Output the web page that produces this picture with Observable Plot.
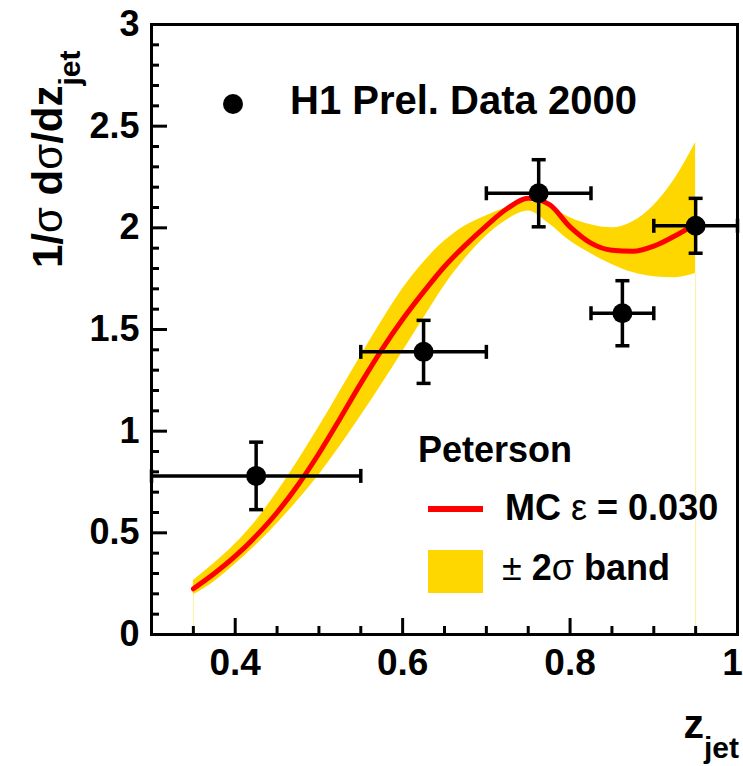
<!DOCTYPE html>
<html>
<head>
<meta charset="utf-8">
<script src="https://cdn.jsdelivr.net/npm/d3@7"></script>
<script src="https://cdn.jsdelivr.net/npm/@observablehq/plot@0.6"></script>
<style>
  html, body { margin: 0; padding: 0; background: #ffffff; }
  #chart svg { display: block; }
</style>
</head>
<body>
<div id="chart"></div>
<script>
// ---------- data ----------
// Monte Carlo (Peterson, eps = 0.030) curve and its +-2 sigma band
const zGrid     = [0.35, 0.375, 0.40, 0.425, 0.45, 0.475, 0.50, 0.525, 0.55, 0.575, 0.60, 0.625, 0.65, 0.675, 0.70, 0.725, 0.75, 0.775, 0.80, 0.825, 0.85, 0.875, 0.90, 0.925, 0.95];
const mcCentral = [0.225, 0.30, 0.385, 0.485, 0.60, 0.735, 0.89, 1.06, 1.235, 1.40, 1.55, 1.685, 1.81, 1.915, 2.01, 2.095, 2.145, 2.115, 2.005, 1.925, 1.89, 1.885, 1.91, 1.96, 2.02];
const bandLow   = [0.195, 0.26, 0.345, 0.44, 0.545, 0.66, 0.785, 0.925, 1.075, 1.23, 1.39, 1.555, 1.715, 1.85, 1.96, 2.04, 2.083, 2.02, 1.935, 1.872, 1.82, 1.78, 1.76, 1.755, 1.775];
const bandHigh  = [0.265, 0.35, 0.445, 0.56, 0.70, 0.855, 1.02, 1.195, 1.37, 1.54, 1.70, 1.83, 1.935, 2.01, 2.06, 2.10, 2.13, 2.105, 2.05, 2.015, 2.0, 2.03, 2.11, 2.24, 2.42];

// H1 preliminary data 2000
const dataZ    = [0.425, 0.625, 0.7625, 0.8625, 0.95];
const dataVal  = [0.78, 1.39, 2.17, 1.58, 2.01];
const binLow   = [0.30, 0.55, 0.70, 0.825, 0.90];
const binHigh  = [0.55, 0.70, 0.825, 0.90, 1.00];
const dataErr  = [0.166, 0.155, 0.165, 0.16, 0.135];

// axes
const xDomain = [0.3, 1.0];
const yDomain = [0, 3];
const xMajorTicks = [0.4, 0.6, 0.8, 1.0];
const xTickLabels = ["0.4", "0.6", "0.8", "1"];
const xMinorTicks = [0.35, 0.45, 0.5, 0.55, 0.65, 0.7, 0.75, 0.85, 0.9, 0.95];
const yMajorTicks = [0, 0.5, 1, 1.5, 2, 2.5, 3];
const yTickLabels = ["0", "0.5", "1", "1.5", "2", "2.5", "3"];
const yMinorTicks = [0.1, 0.2, 0.3, 0.4, 0.6, 0.7, 0.8, 0.9, 1.1, 1.2, 1.3, 1.4, 1.6, 1.7, 1.8, 1.9, 2.1, 2.2, 2.3, 2.4, 2.6, 2.7, 2.8, 2.9];

// ---------- tables ----------
const curveRows = zGrid.map((z, i) => ({z, mc: mcCentral[i], lo: bandLow[i], hi: bandHigh[i]}));
const pointRows = dataZ.map((z, i) => ({
  z, v: dataVal[i], zlo: binLow[i], zhi: binHigh[i],
  ylo: dataVal[i] - dataErr[i], yhi: dataVal[i] + dataErr[i]
}));
const bandEnds = [curveRows[0], curveRows[curveRows.length - 1]];
const xInnerTicks = xMajorTicks.slice(0, -1);
const xEdgeTick = xMajorTicks.slice(-1);

// ---------- style ----------
const FONT = '"Liberation Sans", Arial, Helvetica, sans-serif';
const YELLOW = "#FFD700";
const RED = "#FF0000";
const W = 743, H = 766;
const M = {top: 24, right: 6, bottom: 132, left: 151};

// tick lengths converted from pixels to data units along each scale
const xPerPx = (xDomain[1] - xDomain[0]) / (W - M.left - M.right);
const yPerPx = (yDomain[1] - yDomain[0]) / (H - M.top - M.bottom);
const MAJOR = 16, MINOR = 8;

const hBar = {draw(ctx, size) { const r = Math.sqrt(size / Math.PI); ctx.moveTo(-r, 0); ctx.lineTo(r, 0); }};
const vBar = {draw(ctx, size) { const r = Math.sqrt(size / Math.PI); ctx.moveTo(0, -r); ctx.lineTo(0, r); }};

const xLabelStyle = {tickSize: 0, tickPadding: 14, label: null, fontSize: 37, fontWeight: "bold",
  tickFormat: d => xTickLabels[xMajorTicks.indexOf(d)]};

const svg = Plot.plot({
  width: W,
  height: H,
  marginTop: M.top, marginRight: M.right, marginBottom: M.bottom, marginLeft: M.left,
  x: {domain: xDomain, axis: null},
  y: {domain: yDomain, axis: null},
  style: {fontFamily: FONT, background: "white", color: "black"},
  marks: [
    // band and its thin vertical edges
    Plot.ruleX(bandEnds, {x: "z", y1: yDomain[0], y2: "lo", stroke: "#FFEFA0", strokeWidth: 1}),
    Plot.areaY(curveRows, {x: "z", y1: "lo", y2: "hi", fill: YELLOW, curve: "monotone-x"}),
    Plot.line(curveRows, {x: "z", y: "mc", stroke: RED, strokeWidth: 5, curve: "monotone-x"}),
    // error bars
    Plot.ruleY(pointRows, {y: "v", x1: "zlo", x2: "zhi", stroke: "black", strokeWidth: 3.5}),
    Plot.ruleX(pointRows, {x: "z", y1: "ylo", y2: "yhi", stroke: "black", strokeWidth: 3.5}),
    Plot.dot(pointRows, {x: "zlo", y: "v", symbol: vBar, r: 7, stroke: "black", strokeWidth: 3.5, fill: "none"}),
    Plot.dot(pointRows, {x: "zhi", y: "v", symbol: vBar, r: 7, stroke: "black", strokeWidth: 3.5, fill: "none"}),
    Plot.dot(pointRows, {x: "z", y: "ylo", symbol: hBar, r: 7, stroke: "black", strokeWidth: 3.5, fill: "none"}),
    Plot.dot(pointRows, {x: "z", y: "yhi", symbol: hBar, r: 7, stroke: "black", strokeWidth: 3.5, fill: "none"}),
    Plot.dot(pointRows, {x: "z", y: "v", r: 10, fill: "black", stroke: null}),
    // inward ticks
    Plot.ruleX(xMajorTicks, {x: d => d, y1: yDomain[0], y2: yDomain[0] + MAJOR * yPerPx, stroke: "black", strokeWidth: 3}),
    Plot.ruleX(xMinorTicks, {x: d => d, y1: yDomain[0], y2: yDomain[0] + MINOR * yPerPx, stroke: "black", strokeWidth: 3}),
    Plot.ruleY(yMajorTicks, {y: d => d, x1: xDomain[0], x2: xDomain[0] + MAJOR * xPerPx, stroke: "black", strokeWidth: 3}),
    Plot.ruleY(yMinorTicks, {y: d => d, x1: xDomain[0], x2: xDomain[0] + MINOR * xPerPx, stroke: "black", strokeWidth: 3}),
    // tick labels
    Plot.axisX(xInnerTicks, xLabelStyle),
    Plot.axisX(xEdgeTick, {...xLabelStyle, dx: -5}),
    Plot.axisY(yMajorTicks, {tickSize: 0, tickPadding: 12, label: null, fontSize: 36, fontWeight: "bold",
      tickFormat: d => yTickLabels[yMajorTicks.indexOf(d)]}),
    Plot.frame({stroke: "black", strokeWidth: 3})
  ]
});

document.getElementById("chart").appendChild(svg);

// ---------- legend and axis titles ----------
const s = d3.select(svg);
const g = s.append("g").attr("font-family", FONT).attr("fill", "black").attr("text-anchor", "start");

// data legend
g.append("circle").attr("cx", 233).attr("cy", 104).attr("r", 10).attr("fill", "black");
g.append("text").attr("x", 290).attr("y", 114).attr("font-size", 40).attr("font-weight", "bold")
  .attr("text-anchor", "start").text("H1 Prel. Data 2000");

// MC legend
g.append("text").attr("x", 418).attr("y", 462).attr("font-size", 36).attr("font-weight", "bold")
  .attr("text-anchor", "start").text("Peterson");
g.append("line").attr("x1", 428).attr("x2", 483).attr("y1", 509).attr("y2", 509)
  .attr("stroke", RED).attr("stroke-width", 6);
const t1 = g.append("text").attr("x", 505).attr("y", 520).attr("font-size", 36).attr("font-weight", "bold")
  .attr("text-anchor", "start");
t1.append("tspan").text("MC ");
t1.append("tspan").attr("font-weight", "normal").text("ε");
t1.append("tspan").text(" = 0.030");
g.append("rect").attr("x", 428).attr("y", 550).attr("width", 55).attr("height", 43).attr("fill", YELLOW);
const t2 = g.append("text").attr("x", 502).attr("y", 580).attr("font-size", 36).attr("font-weight", "bold")
  .attr("text-anchor", "start");
t2.append("tspan").attr("font-weight", "normal").text("±");
t2.append("tspan").text(" 2");
t2.append("tspan").attr("font-weight", "normal").text("σ");
t2.append("tspan").text(" band");

// y title
const yt = g.append("text").attr("transform", "translate(62,268) rotate(-90)")
  .attr("font-size", 42).attr("font-weight", "bold").attr("text-anchor", "start");
yt.append("tspan").text("1/");
yt.append("tspan").attr("font-weight", "normal").text("σ");
yt.append("tspan").text(" d");
yt.append("tspan").attr("font-weight", "normal").text("σ");
yt.append("tspan").text("/dz");
yt.append("tspan").attr("font-size", 30).attr("dy", 18).text("jet");

// x title
const xt = g.append("text").attr("x", 739).attr("y", 738).attr("text-anchor", "end")
  .attr("font-size", 41).attr("font-weight", "bold");
xt.append("tspan").text("z");
xt.append("tspan").attr("font-size", 30).attr("dy", 20).text("jet");
</script>
</body>
</html>
